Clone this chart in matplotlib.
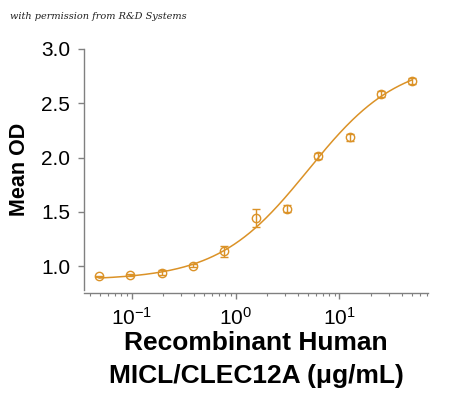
import numpy as np
import matplotlib
matplotlib.use("Agg")
import matplotlib.pyplot as plt

# concentrations (ug/mL), mean OD and SD
conc = [0.0488, 0.0977, 0.195, 0.391, 0.781, 1.5625, 3.125, 6.25, 12.5, 25.0, 50.0]
mean_od = [0.905, 0.914, 0.940, 1.004, 1.136, 1.443, 1.530, 2.016, 2.186, 2.585, 2.705]
sd_od = [0.005, 0.010, 0.020, 0.015, 0.050, 0.085, 0.030, 0.030, 0.030, 0.030, 0.025]

# 4-parameter logistic fit (bottom, top, EC50, hill)
fit_bottom = 0.87
fit_top = 2.90
fit_ec50 = 5.0
fit_hill = 1.0

color = "#DB9227"

plt.rcParams["font.family"] = ["Liberation Sans", "DejaVu Sans"]
plt.rcParams["mathtext.fontset"] = "custom"
plt.rcParams["mathtext.rm"] = "Liberation Sans"

fig = plt.figure(figsize=(4.5, 3.95), dpi=100)
ax = fig.add_axes([0.187, 0.266, 0.764, 0.610])

xs = np.geomspace(conc[0], conc[-1], 300)
ys = fit_top + (fit_bottom - fit_top) / (1 + (xs / fit_ec50) ** fit_hill)
ax.plot(xs, ys, color=color, lw=1.1)

ax.errorbar(conc, mean_od, yerr=sd_od, fmt="o", ms=6, mfc="none", mec=color,
            mew=1.0, ecolor=color, elinewidth=1.0, capsize=3, capthick=1.0)

ax.set_xscale("log")
ax.set_xlim(0.035, 71)
ax.set_ylim(0.78, 3.0)
ax.set_xticks([0.1, 1, 10])
ax.set_yticks([1.0, 1.5, 2.0, 2.5, 3.0])
ax.set_yticklabels(["1.0", "1.5", "2.0", "2.5", "3.0"])

for side in ["top", "right"]:
    ax.spines[side].set_visible(False)
for side in ["left", "bottom"]:
    ax.spines[side].set_color("#808080")
    ax.spines[side].set_linewidth(1.0)
ax.spines["bottom"].set_position(("outward", 2))

ax.tick_params(axis="both", which="major", colors="#808080", labelcolor="black",
               labelsize=15, length=4, width=1.0)
ax.tick_params(axis="y", which="major", pad=6)
ax.tick_params(axis="x", which="major", pad=6)
ax.tick_params(axis="x", which="minor", colors="#808080", length=2.5, width=0.8)

ax.set_ylabel("Mean OD", fontsize=15.5, fontweight="bold", labelpad=8)
ax.set_xlabel("Recombinant Human\nMICL/CLEC12A (\u03bcg/mL)", fontsize=19,
              fontweight="bold", labelpad=2, linespacing=1.45)

fig.text(0.022, 0.959, "with permission from R&D Systems", fontsize=7,
         family="serif", style="italic", color="#202020", va="center")

fig.savefig("out.png", dpi=100)
